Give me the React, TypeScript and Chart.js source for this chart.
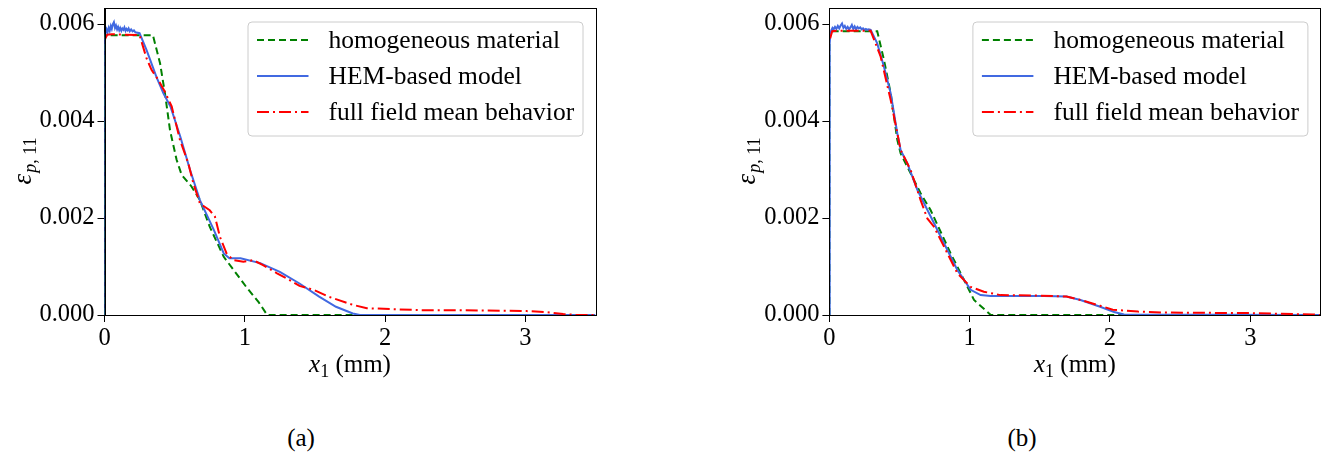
import React, { useEffect, useRef } from "react";
import { Chart, registerables } from "chart.js";

Chart.register(...registerables);

const FONT = "'Liberation Serif', 'Times New Roman', serif";

// ---------- axes / labels ----------
const xTicks = [0, 1, 2, 3];
const yTicks = [0, 0.002, 0.004, 0.006];
const xRange = [0, 3.5];
const yRange = [0, 0.00633];
const seriesLabels = ["homogeneous material", "HEM-based model", "full field mean behavior"];
const captions = ["(a)", "(b)"];

// ---------- panel (a) ----------
const homA_x = [0, 0, 0.345, 0.396, 0.431, 0.467, 0.514, 0.55, 0.62, 0.68, 0.75, 0.85, 0.92, 1.01, 1.1, 1.16, 3.5];
const homA_y = [0, 0.00577, 0.00577, 0.00519, 0.00457, 0.00381, 0.0032, 0.00289, 0.00265, 0.00237, 0.00182, 0.0012, 0.00093, 0.00058, 0.00026, 0, 0];

const hemA_x = [0, 0.002, 0.008, 0.015, 0.022, 0.03, 0.037, 0.045, 0.052, 0.06, 0.067, 0.075, 0.082, 0.09, 0.097, 0.105, 0.112, 0.12, 0.127, 0.135, 0.142, 0.15, 0.157, 0.165, 0.172, 0.18, 0.19, 0.2, 0.21, 0.22, 0.25, 0.3, 0.37, 0.42, 0.47, 0.54, 0.61, 0.68, 0.78, 0.85, 0.89, 0.97, 1.11, 1.25, 1.39, 1.53, 1.65, 1.77, 1.82, 3.5];
const hemA_y = [0, 0.0056, 0.00582, 0.00589, 0.00583, 0.00592, 0.00586, 0.00596, 0.0059, 0.006, 0.00604, 0.00592, 0.00597, 0.00589, 0.00594, 0.00587, 0.00592, 0.00586, 0.00591, 0.00588, 0.00593, 0.00586, 0.0059, 0.00587, 0.00591, 0.00585, 0.00589, 0.00585, 0.00587, 0.00583, 0.00581, 0.00546, 0.00491, 0.00457, 0.0043, 0.00368, 0.00299, 0.00237, 0.00175, 0.00127, 0.00117, 0.00117, 0.00107, 0.00089, 0.00065, 0.00038, 0.00017, 0.00003, 0, 0];

const fulA_x = [0.005, 0.02, 0.05, 0.25, 0.3, 0.336, 0.383, 0.431, 0.479, 0.538, 0.597, 0.633, 0.68, 0.75, 0.787, 0.823, 0.87, 0.918, 0.99, 1.06, 1.13, 1.23, 1.32, 1.39, 1.49, 1.595, 1.77, 1.87, 2.25, 2.53, 3.01, 3.15, 3.27, 3.37, 3.5];
const fulA_y = [0.0057, 0.00578, 0.00579, 0.00577, 0.00529, 0.00505, 0.00485, 0.0046, 0.0043, 0.00361, 0.00313, 0.00272, 0.0023, 0.00216, 0.00203, 0.00161, 0.00127, 0.00113, 0.0011, 0.00113, 0.00103, 0.00086, 0.00072, 0.0006, 0.00052, 0.00038, 0.00021, 0.00014, 0.0001, 0.0001, 0.00008, 0.00006, 0.00002, 0, 0];

// ---------- panel (b) ----------
const homB_x = [0, 0, 0.33, 0.341, 0.389, 0.437, 0.484, 0.508, 0.579, 0.65, 0.722, 0.864, 0.936, 1.031, 1.15, 3.5];
const homB_y = [0, 0.00585, 0.00585, 0.00585, 0.00526, 0.00457, 0.00361, 0.00333, 0.00292, 0.00251, 0.00216, 0.00127, 0.00086, 0.00031, 0, 0];

const hemB_x = [0, 0.002, 0.008, 0.015, 0.022, 0.03, 0.04, 0.05, 0.06, 0.07, 0.08, 0.09, 0.1, 0.11, 0.12, 0.13, 0.14, 0.15, 0.16, 0.17, 0.18, 0.19, 0.2, 0.21, 0.22, 0.23, 0.24, 0.25, 0.26, 0.27, 0.28, 0.294, 0.341, 0.389, 0.437, 0.484, 0.508, 0.555, 0.627, 0.722, 0.817, 0.912, 1.007, 1.078, 1.15, 1.53, 1.69, 1.79, 1.93, 2.03, 2.1, 3.5];
const hemB_y = [0, 0.0056, 0.00582, 0.00588, 0.00592, 0.00589, 0.00594, 0.0059, 0.00596, 0.00591, 0.00597, 0.00601, 0.00592, 0.00596, 0.0059, 0.00594, 0.00589, 0.00593, 0.00598, 0.0059, 0.00595, 0.00589, 0.00594, 0.00591, 0.00593, 0.00589, 0.00591, 0.00588, 0.0059, 0.00588, 0.00589, 0.00588, 0.0056, 0.00512, 0.00457, 0.00375, 0.0034, 0.00313, 0.00258, 0.00203, 0.00148, 0.00093, 0.00052, 0.00041, 0.00039, 0.00039, 0.00038, 0.00031, 0.00017, 0.00006, 0.00001, 0];

const fulB_x = [0.005, 0.02, 0.05, 0.294, 0.365, 0.437, 0.508, 0.579, 0.65, 0.698, 0.745, 0.817, 0.912, 1.007, 1.101, 1.22, 1.5, 1.69, 1.79, 1.93, 2.02, 2.2, 2.38, 2.97, 3.45, 3.5];
const fulB_y = [0.0057, 0.00585, 0.00586, 0.00586, 0.00533, 0.00443, 0.0034, 0.00299, 0.00237, 0.00199, 0.00182, 0.00141, 0.00086, 0.00058, 0.00048, 0.00041, 0.0004, 0.00038, 0.00031, 0.00019, 0.00011, 0.00007, 0.00005, 0.00004, 0.00001, 0];

// ---------- helpers ----------
const pts = (xs: number[], ys: number[]) => xs.map((x, i) => ({ x, y: ys[i] }));

const COLORS = ["#008000", "#4169e1", "#ff0000"];
const DASHES: number[][] = [[7, 4], [], [12, 4, 2, 4]];

const framePlugin = {
  id: "frameAndTitles",
  afterDraw(chart: any) {
    const { ctx, chartArea } = chart;
    const { left, right, top, bottom } = chartArea;
    ctx.save();
    // full box frame
    ctx.strokeStyle = "#000";
    ctx.lineWidth = 1;
    ctx.setLineDash([]);
    ctx.strokeRect(Math.round(left) + 0.5, Math.round(top) + 0.5, Math.round(right - left), Math.round(bottom - top));

    // legend
    const bw = 335;
    const bh = 114;
    const bx = right - 13 - bw;
    const by = top + 13.5;
    ctx.fillStyle = "rgba(255,255,255,0.85)";
    ctx.strokeStyle = "#cccccc";
    ctx.lineWidth = 1;
    ctx.beginPath();
    (ctx as any).roundRect(bx + 0.5, by + 0.5, bw, bh, 4);
    ctx.fill();
    ctx.stroke();
    ctx.font = `25.5px ${FONT}`;
    ctx.textBaseline = "middle";
    ctx.textAlign = "left";
    for (let i = 0; i < 3; i++) {
      const yy = by + 18.5 + i * 36;
      ctx.strokeStyle = COLORS[i];
      ctx.lineWidth = 2;
      ctx.setLineDash(DASHES[i]);
      ctx.beginPath();
      ctx.moveTo(bx + 9.5, yy);
      ctx.lineTo(bx + 61, yy);
      ctx.stroke();
      ctx.setLineDash([]);
      ctx.fillStyle = "#000";
      ctx.fillText(seriesLabels[i], bx + 81, yy + 1);
    }

    // x axis title: x_1 (mm)
    ctx.fillStyle = "#000";
    ctx.textBaseline = "alphabetic";
    const f1 = `italic 25px ${FONT}`;
    const f2 = `18px ${FONT}`;
    const f3 = `25px ${FONT}`;
    ctx.font = f1; const w1 = ctx.measureText("x").width;
    ctx.font = f2; const w2 = ctx.measureText("1").width;
    ctx.font = f3; const w3 = ctx.measureText(" (mm)").width;
    const cx = (left + right) / 2;
    let sx = cx - (w1 + w2 + w3) / 2;
    const base = 372;
    ctx.font = f1; ctx.fillText("x", sx, base); sx += w1;
    ctx.font = f2; ctx.fillText("1", sx, base + 5); sx += w2;
    ctx.font = f3; ctx.fillText(" (mm)", sx, base);

    // y axis title: eps_{p, 11}
    ctx.translate(31, (top + bottom) / 2);
    ctx.rotate(-Math.PI / 2);
    const g1 = `italic 27px ${FONT}`;
    const g2 = `italic 18px ${FONT}`;
    const g3 = `18px ${FONT}`;
    ctx.font = g1; const e1 = ctx.measureText("ε").width;
    ctx.font = g2; const e2 = ctx.measureText("p").width;
    ctx.font = g3; const e3 = ctx.measureText(", 11").width;
    let ty = -(e1 + e2 + e3) / 2;
    ctx.font = g1; ctx.fillText("ε", ty, 0); ty += e1 + 1;
    ctx.font = g2; ctx.fillText("p", ty, 5); ty += e2;
    ctx.font = g3; ctx.fillText(", 11", ty, 5);
    ctx.restore();
  },
};

type PanelProps = {
  left: number;
  width: number;
  yAxisWidth: number;
  rightPad: number;
  hom: { x: number; y: number }[];
  hem: { x: number; y: number }[];
  ful: { x: number; y: number }[];
};

function Panel({ left, width, yAxisWidth, rightPad, hom, hem, ful }: PanelProps) {
  const ref = useRef<HTMLCanvasElement | null>(null);
  useEffect(() => {
    if (!ref.current) return;
    const tickFont = { family: FONT, size: 24.5 };
    const chart = new Chart(ref.current, {
      type: "line",
      data: {
        datasets: [
          { label: seriesLabels[0], data: hom, borderColor: COLORS[0], borderDash: DASHES[0], borderWidth: 2, pointRadius: 0, tension: 0, fill: false, order: 3 },
          { label: seriesLabels[1], data: hem, borderColor: COLORS[1], borderWidth: 2, pointRadius: 0, tension: 0, fill: false, order: 2 },
          { label: seriesLabels[2], data: ful, borderColor: COLORS[2], borderDash: DASHES[2], borderWidth: 2, pointRadius: 0, tension: 0, fill: false, order: 1 },
        ],
      },
      options: {
        animation: false,
        responsive: false,
        devicePixelRatio: 1,
        layout: { padding: { left: 0, right: rightPad, top: 8, bottom: 0 } },
        plugins: { legend: { display: false }, tooltip: { enabled: false } },
        scales: {
          x: {
            type: "linear",
            min: xRange[0],
            max: xRange[1],
            afterBuildTicks: (s: any) => { s.ticks = xTicks.map((v) => ({ value: v })); },
            afterFit: (s: any) => { s.height = 85; s.paddingLeft = 0; s.paddingRight = 0; },
            ticks: { font: tickFont, color: "#000", padding: 2, maxRotation: 0, autoSkip: false, callback: (v: any) => String(v) },
            grid: { drawOnChartArea: false, tickLength: 7, color: "#000", tickColor: "#000" },
            border: { display: true, color: "#000" },
          },
          y: {
            type: "linear",
            min: yRange[0],
            max: yRange[1],
            afterBuildTicks: (s: any) => { s.ticks = yTicks.map((v) => ({ value: v })); },
            afterFit: (s: any) => { s.width = yAxisWidth; s.paddingTop = 0; s.paddingBottom = 0; },
            ticks: { font: tickFont, color: "#000", padding: 3, autoSkip: false, callback: (v: any) => Number(v).toFixed(3) },
            grid: { drawOnChartArea: false, tickLength: 7, color: "#000", tickColor: "#000" },
            border: { display: true, color: "#000" },
          },
        },
      } as any,
      plugins: [framePlugin],
    });
    return () => chart.destroy();
  }, []);
  return (
    <canvas
      ref={ref}
      width={width}
      height={400}
      style={{ position: "absolute", left, top: 0, width, height: 400 }}
    />
  );
}

export default function App() {
  useEffect(() => {
    document.body.style.margin = "0";
  }, []);
  const capStyle: React.CSSProperties = {
    position: "absolute",
    top: 424,
    width: 80,
    textAlign: "center",
    fontFamily: FONT,
    fontSize: 25,
    lineHeight: "28px",
    color: "#000",
  };
  return (
    <div style={{ position: "fixed", left: 0, top: 0, width: 1329, height: 457, background: "#fff", overflow: "hidden" }}>
      <Panel left={0} width={664} yAxisWidth={104.5} rightPad={664 - 595.5} hom={pts(homA_x, homA_y)} hem={pts(hemA_x, hemA_y)} ful={pts(fulA_x, fulA_y)} />
      <Panel left={724} width={605} yAxisWidth={105.4} rightPad={8.6} hom={pts(homB_x, homB_y)} hem={pts(hemB_x, hemB_y)} ful={pts(fulB_x, fulB_y)} />
      <div style={{ ...capStyle, left: 301 - 40 }}>{captions[0]}</div>
      <div style={{ ...capStyle, left: 1022 - 40 }}>{captions[1]}</div>
    </div>
  );
}
